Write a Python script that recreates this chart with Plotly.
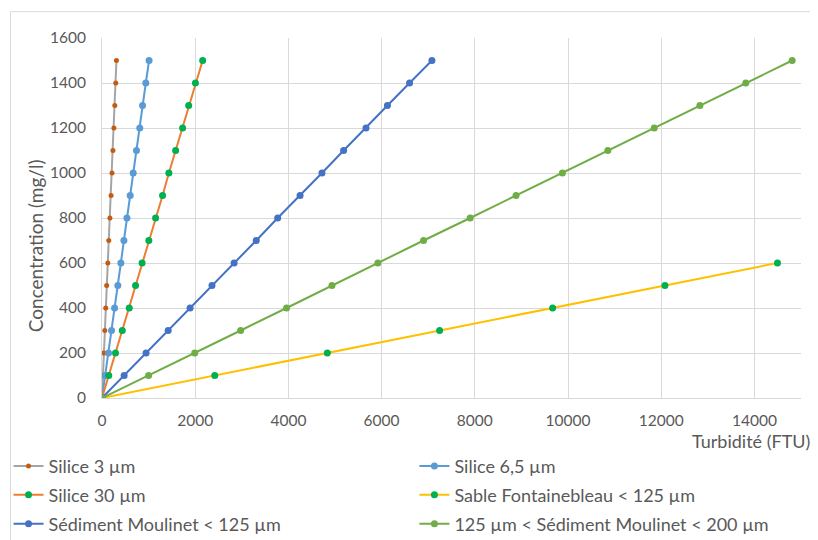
import plotly.graph_objects as go

# ---- data ----
conc_full = [0, 100, 200, 300, 400, 500, 600, 700, 800, 900, 1000, 1100, 1200, 1300, 1400, 1500]
conc_sable = [0, 100, 200, 300, 400, 500, 600]

silice_3 = [0, 20, 40, 60, 80, 100, 125, 145, 170, 195, 215, 235, 255, 275, 295, 310]
silice_6_5 = [0, 70, 140, 205, 270, 340, 405, 470, 535, 605, 670, 740, 810, 870, 940, 1010]
silice_30 = [0, 145, 290, 435, 585, 720, 860, 1005, 1150, 1300, 1435, 1580, 1730, 1860, 2005, 2160]
sable_fontainebleau = [0, 2420, 4835, 7245, 9670, 12080, 14495]
moulinet_125 = [0, 475, 945, 1420, 1890, 2360, 2835, 3310, 3770, 4250, 4720, 5185, 5665, 6125, 6600, 7080]
moulinet_125_200 = [0, 1000, 1990, 2975, 3960, 4935, 5920, 6900, 7900, 8885, 9880, 10855, 11850, 12830, 13815, 14810]

names = ["Silice 3 µm", "Silice 6,5 µm", "Silice 30 µm", "Sable Fontainebleau < 125 µm",
         "Sédiment Moulinet < 125 µm", "125 µm < Sédiment Moulinet < 200 µm"]

x_ticks = [0, 2000, 4000, 6000, 8000, 10000, 12000, 14000]
y_ticks = [0, 200, 400, 600, 800, 1000, 1200, 1400, 1600]

# ---- styles ----
series = [
    (silice_3, conc_full, "#A5A5A5", "#C55A11", 5, "legend"),
    (silice_6_5, conc_full, "#5B9BD5", "#5B9BD5", 7, "legend2"),
    (silice_30, conc_full, "#ED7D31", "#00B050", 7, "legend"),
    (sable_fontainebleau, conc_sable, "#FFC000", "#00B050", 7, "legend2"),
    (moulinet_125, conc_full, "#4472C4", "#4472C4", 7, "legend"),
    (moulinet_125_200, conc_full, "#70AD47", "#70AD47", 7, "legend2"),
]

FONT = "Lato"
GREY = "#595959"

fig = go.Figure()
for i, (name, (xs, ys, lc, mc, ms, lg)) in enumerate(zip(names, series)):
    fig.add_trace(go.Scatter(
        x=xs, y=ys, name=name, mode="lines+markers",
        line=dict(color=lc, width=2),
        marker=dict(color=mc, size=ms),
        legend=lg, legendgroup="g%d" % i,
    ))

OFF = 8  # page body margin
W, H = 818 - OFF, 540 - OFF
# target screen coords of plot area: x 101.5..800.7, y 38.3..398.3
L = 101.5 - OFF
T = 38.3 - OFF
pw, ph = 699.2, 360.0
R = W - L - pw
B = H - T - ph


def px2paper_x(px):
    return (px - OFF - L) / pw


def px2paper_y(py):
    return (H - B - (py - OFF)) / ph


legend_common = dict(
    orientation="v", xanchor="left", yanchor="top",
    y=px2paper_y(448), tracegroupgap=2.5,
    font=dict(family=FONT, size=18, color=GREY),
    bgcolor="rgba(0,0,0,0)", itemwidth=30,
)

fig.update_layout(
    width=W, height=H,
    margin=dict(l=L, r=R, t=T, b=B, pad=0, autoexpand=False),
    paper_bgcolor="white", plot_bgcolor="white",
    font=dict(family=FONT, size=16, color=GREY),
    showlegend=True,
    legend=dict(x=px2paper_x(8), **legend_common),
    legend2=dict(x=px2paper_x(414), **legend_common),
    xaxis=dict(
        range=[0, 15000], tickvals=x_ticks, tickformat="d", showgrid=True, gridcolor="#D9D9D9", gridwidth=1,
        zeroline=False, showline=True, linecolor="#D9D9D9", linewidth=1,
        ticks="", ticklen=0, ticklabelstandoff=8,
        tickfont=dict(family=FONT, size=15.5, color=GREY),
    ),
    yaxis=dict(
        range=[0, 1600], tickvals=y_ticks, tickformat="d", showgrid=True, gridcolor="#D9D9D9", gridwidth=1,
        zeroline=False, showline=True, linecolor="#D9D9D9", linewidth=1,
        ticks="", ticklen=0, ticklabelstandoff=12,
        tickfont=dict(family=FONT, size=15.5, color=GREY),
    ),
    shapes=[dict(
        type="rect", xref="paper", yref="paper",
        x0=px2paper_x(10), x1=px2paper_x(840), y0=px2paper_y(560), y1=px2paper_y(12),
        line=dict(color="#D9D9D9", width=1), fillcolor="rgba(0,0,0,0)", layer="below",
    )],
    annotations=[
        dict(text="Turbidité (FTU)", xref="paper", yref="paper",
             x=px2paper_x(812), y=px2paper_y(441), xanchor="right", yanchor="middle",
             showarrow=False, font=dict(family=FONT, size=18, color=GREY)),
        dict(text="Concentration (mg/l)", xref="paper", yref="paper",
             x=px2paper_x(35), y=px2paper_y(246), xanchor="center", yanchor="middle",
             textangle=-90, showarrow=False, font=dict(family=FONT, size=19, color=GREY)),
    ],
)

fig.write_html("out.html")
